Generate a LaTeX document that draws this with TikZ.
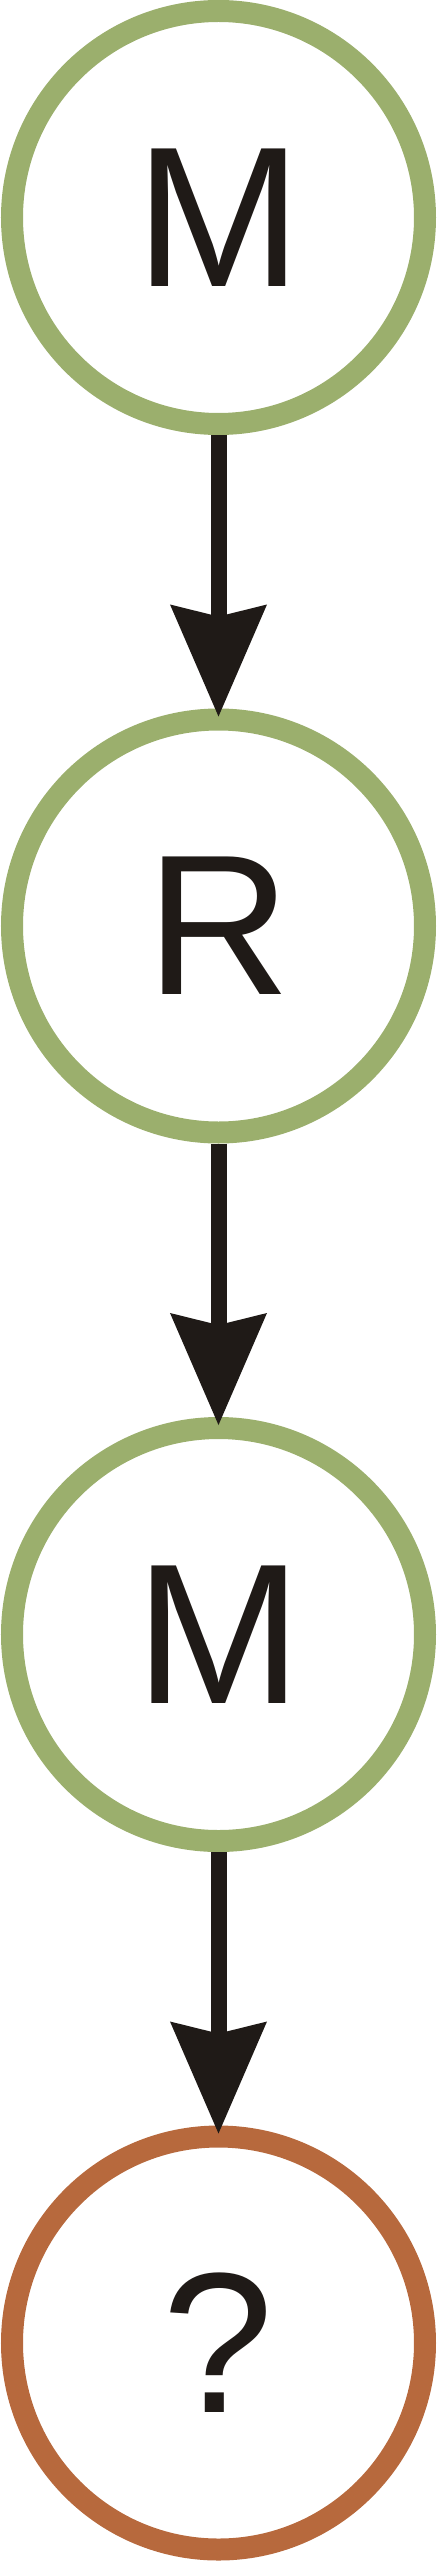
\documentclass[tikz,border=0pt]{standalone}
\usepackage{fontspec}
\setmainfont{Liberation Sans}
\usepackage{xcolor}
\usetikzlibrary{positioning,arrows.meta}
\definecolor{stategreen}{HTML}{9BAF6D}
\definecolor{stateorange}{HTML}{B7693D}
\definecolor{inkblack}{HTML}{1F1A17}

\begin{document}
\begin{tikzpicture}[x=1pt, y=1pt, node distance=273.5pt,
  state/.style={circle, draw=stategreen, line width=22pt, minimum size=413pt,
    inner sep=0pt, text=inkblack, font=\fontsize{200}{200}\selectfont},
  unknown/.style={state, draw=stateorange},
  flow/.style={line width=16pt, draw=inkblack,
    -{Stealth[length=112pt, width=97pt, inset=12pt, line width=0pt]},
    shorten >=-8pt}]
  \useasboundingbox (-218.5,217.5) rectangle (218.5,-2345.5);
  \node[state] (m1) at (0,0) {M};
  \node[state, below=of m1] (r) {R};
  \node[state, below=of r] (m2) {M};
  \node[unknown, below=of m2] (q) {?};
  \draw[flow] (m1) -- (r);
  \draw[flow] (r) -- (m2);
  \draw[flow] (m2) -- (q);
\end{tikzpicture}
\end{document}
